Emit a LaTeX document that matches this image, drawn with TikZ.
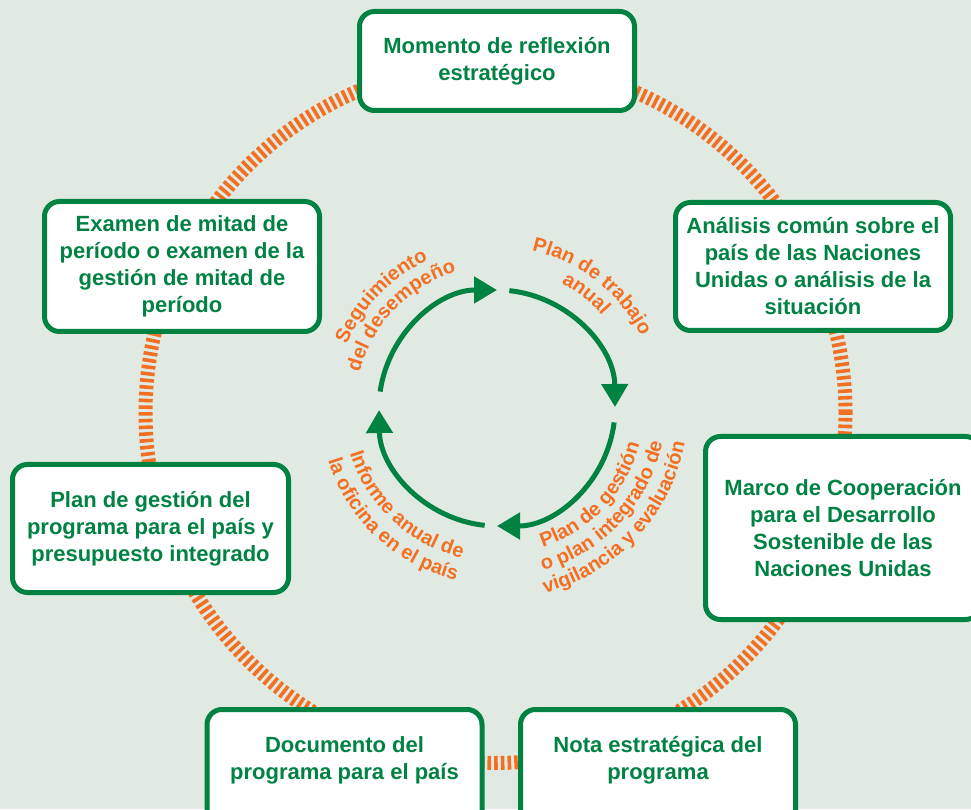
\documentclass[tikz,border=0pt]{standalone}
\usepackage{fontspec}
\setmainfont{Liberation Sans}
\usetikzlibrary{arrows.meta,decorations.text}
\definecolor{bg}{RGB}{225,234,226}
\definecolor{grn}{RGB}{0,130,66}
\definecolor{orng}{RGB}{242,112,36}
\newcommand\lbl{\fontsize{20}{22}\selectfont\bfseries}
\newcommand\cwlabel[3]{\path[decorate,decoration={text along path,text align=center,text color=orng,text={|\lbl|#3}}] ([shift={(#1+75:#2pt)}]C) arc[start angle=#1+75, delta angle=-150, radius=#2pt];}
\newcommand\ccwlabel[3]{\path[decorate,decoration={text along path,text align=center,text color=orng,text={|\lbl|#3}}] ([shift={(#1-75:#2pt)}]C) arc[start angle=#1-75, delta angle=150, radius=#2pt];}
\begin{document}
\begin{tikzpicture}[x=1pt,y=1pt,
  box/.style={draw=grn, line width=5pt, fill=white, rounded corners=15pt, minimum width=275pt, inner sep=0pt},
  boxtext/.style={text=grn, font=\fontsize{22}{27}\selectfont\bfseries, align=center},
  ring/.style={draw=orng, line width=14pt, dash pattern=on 3.6pt off 3.1pt},
  cyc/.style={draw=grn, line width=5pt, -{Triangle[length=23pt,width=26pt]}},
]
\fill[bg] (0,0) rectangle (971,809);
\useasboundingbox (0,0) rectangle (971,809);
\clip (0,0) rectangle (971,809);
\coordinate (R) at (495.5,396);
\draw[ring] (R) circle[radius=350pt];

% boxes
\node[box, boxtext, minimum height=99pt] (top) at (497,748) {Momento de reflexión\\estratégico};
\node[box, boxtext, minimum height=128pt] (ana) at (813,542.5) {Análisis común sobre el\\país de las Naciones\\Unidas o análisis de la\\situación};
\node[box, boxtext, minimum height=183pt] (marco) at (843,281) {Marco de Cooperación\\para el Desarrollo\\Sostenible de las\\Naciones Unidas};
\node[box, minimum height=128pt] (nota) at (658,35.5) {};
\node[boxtext] (notat) at (658,49) {Nota estratégica del\\programa};
\node[box, minimum height=128pt] (doc) at (344.5,35.5) {};
\node[boxtext] (doct) at (344.5,49) {Documento del\\programa para el país};
\node[box, boxtext, minimum height=128pt, minimum width=276pt] (plan) at (150.5,280.5) {Plan de gestión del\\programa para el país y\\presupuesto integrado};
\node[box, boxtext, minimum height=130pt] (exam) at (182,542.5) {Examen de mitad de\\período o examen de la\\gestión de mitad de\\período};

% inner cycle
\coordinate (C) at (497,401);
\draw[cyc] ([shift={(84:118pt)}]C) arc[start angle=84, end angle=0.5, radius=118pt];
\draw[cyc] ([shift={(-7:118pt)}]C) arc[start angle=-7, end angle=-90, radius=118pt];
\draw[cyc] ([shift={(-96:118pt)}]C) arc[start angle=-96, end angle=-179, radius=118pt];
\draw[cyc] ([shift={(172:118pt)}]C) arc[start angle=172, end angle=90, radius=118pt];

% curved labels
\cwlabel{136}{163}{Seguimiento}
\cwlabel{136}{142}{del desempeño}
\cwlabel{52}{161}{Plan de trabajo}
\cwlabel{52}{140}{anual}
\ccwlabel{-43}{147}{Plan de gestión}
\ccwlabel{-43}{169}{o plan integrado de}
\ccwlabel{-43}{191}{vigilancia y evaluación}
\ccwlabel{227}{154}{Informe anual de}
\ccwlabel{227}{177}{la oficina en el país}
\end{tikzpicture}
\end{document}
